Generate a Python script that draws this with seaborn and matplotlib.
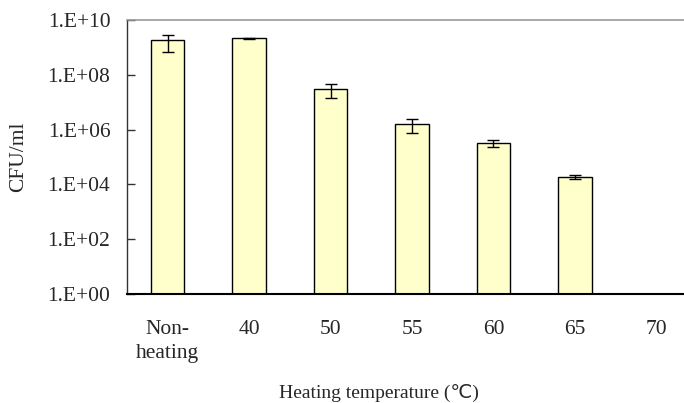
import numpy as np
import pandas as pd
import matplotlib
matplotlib.use("Agg")
import matplotlib.pyplot as plt
import seaborn as sns

# data
temps = ["Non-\nheating", "40", "50", "55", "60", "65", "70"]
cfu = [1.8e9, 2.15e9, 3.1e7, 1.6e6, 3.3e5, 1.86e4, 1.0]
cfu_sd = [1.1e9, 0.1e9, 1.7e7, 0.85e6, 1.0e5, 0.3e4, 0.0]
ytick_vals = [1e0, 1e2, 1e4, 1e6, 1e8, 1e10]
ytick_labels = ["1.E+00", "1.E+02", "1.E+04", "1.E+06", "1.E+08", "1.E+10"]

sns.set_style("white")
plt.rcParams['font.family'] = ['Liberation Serif', 'DejaVu Sans']
FS = 15.5

df = pd.DataFrame({"temp": temps, "cfu": cfu, "sd": cfu_sd})

fig = plt.figure(figsize=(6.84, 4.03), dpi=100)
ax = fig.add_axes([127 / 684, 109 / 403, 570 / 684, 274 / 403])

sns.barplot(data=df, x="temp", y="cfu", ax=ax, color="#FFFFCC",
            saturation=1, width=0.41, edgecolor="black", linewidth=1.0,
            errorbar=None, zorder=2)
ax.set_yscale("log")

# error bars (skip the zero group)
mask = df["sd"] > 0
xs = np.arange(len(df))[mask.values]
ax.errorbar(xs, df.loc[mask, "cfu"], yerr=df.loc[mask, "sd"], fmt="none",
            ecolor="black", elinewidth=1.0, capsize=4.5, capthick=1.0, zorder=3)

ax.set_ylim(1, 1e10)
ax.set_xlim(-0.5, len(df) - 0.5)
ax.set_yticks(ytick_vals)
ax.set_yticklabels(ytick_labels)
ax.yaxis.set_minor_locator(matplotlib.ticker.NullLocator())

# category separators as inward ticks on x
ax.set_xticks(np.arange(len(df)))
ax.set_xticklabels(temps, linespacing=1.3)
ax.set_xticks(np.arange(len(df) - 1) + 0.5, minor=True)
ax.tick_params(axis="x", which="major", length=0, pad=19, labelsize=FS)
ax.tick_params(axis="x", which="minor", direction="in", length=6,
               width=1, color="black")
ax.tick_params(axis="y", which="major", direction="in", length=6, width=1,
               color="#333333", pad=12, labelsize=FS, left=True)

for lbl in ax.get_xticklabels():
    lbl.set_verticalalignment("top")

ax.spines["top"].set_color("#999999")
ax.spines["top"].set_linewidth(1.2)
ax.spines["left"].set_color("#333333")
ax.spines["left"].set_linewidth(1.0)
ax.spines["bottom"].set_color("black")
ax.spines["bottom"].set_linewidth(1.5)
ax.spines["right"].set_visible(False)

ax.set_ylabel("CFU/ml", fontsize=FS)
ax.yaxis.set_label_coords(-0.174, 0.5)
ax.set_xlabel("Heating temperature (\u2103)", fontsize=14)
ax.xaxis.set_label_coords(0.442, -0.33)

fig.savefig("out.png", dpi=100)
